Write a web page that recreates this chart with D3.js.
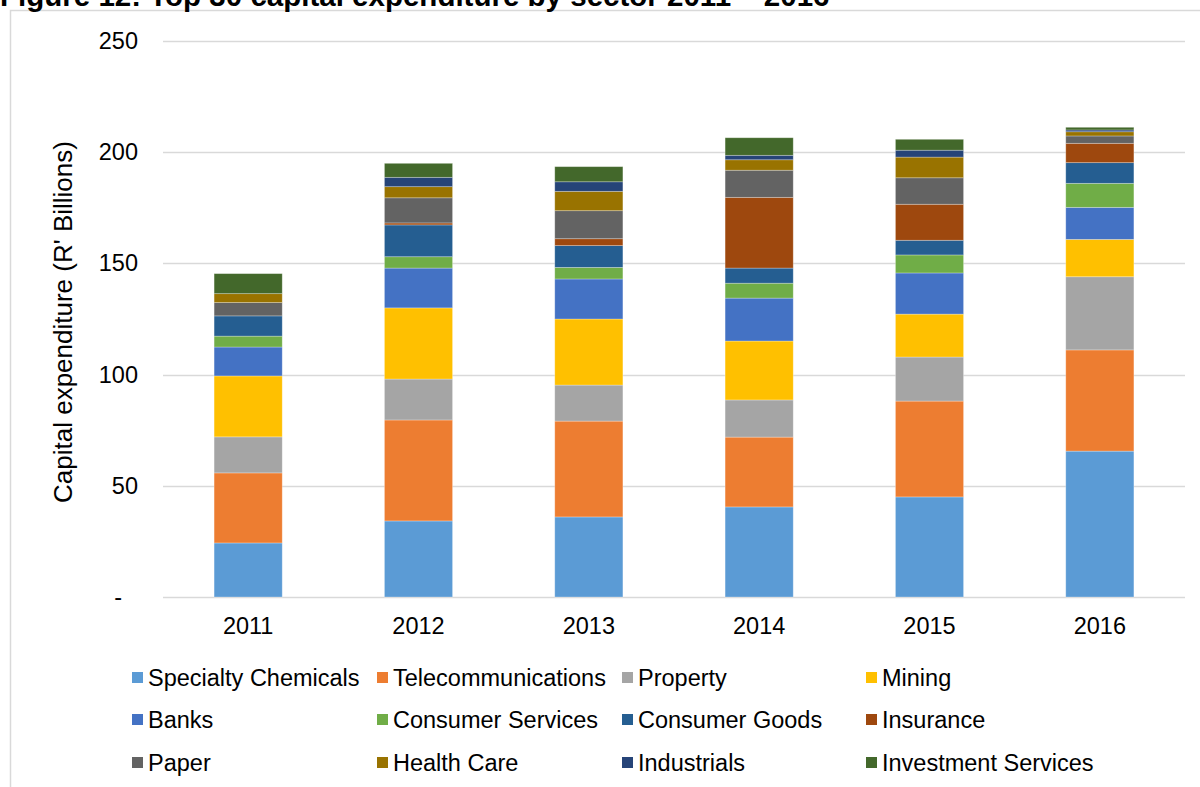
<!DOCTYPE html>
<html>
<head>
<meta charset="utf-8">
<script src="https://cdn.jsdelivr.net/npm/d3@7"></script>
<style>
  body { margin: 0; background: #fff; }
  text { font-family: "Liberation Sans", Arial, sans-serif; }
</style>
</head>
<body>
<div id="myChart"></div>
<script>
// years on the x axis
var years = ["2011", "2012", "2013", "2014", "2015", "2016"];

// sectors, bottom of stack first
var sectors = ["Specialty Chemicals", "Telecommunications", "Property", "Mining",
    "Banks", "Consumer Services", "Consumer Goods", "Insurance",
    "Paper", "Health Care", "Industrials", "Investment Services"];

// R' billions per year (2011..2016)
var specialtyChemicals = [24.3, 34.2, 36.0, 40.5, 45.0, 65.6];
var telecommunications = [31.5, 45.4, 43.1, 31.4, 43.1, 45.5];
var property           = [16.2, 18.4, 16.2, 16.7, 19.8, 32.9];
var mining             = [27.4, 32.0, 29.7, 26.5, 19.3, 16.8];
var banks              = [13.0, 17.9, 18.0, 19.3, 18.5, 14.4];
var consumerServices   = [4.9, 5.1, 5.2, 6.7, 8.1, 10.8];
var consumerGoods      = [9.1, 14.3, 9.8, 6.8, 6.6, 9.3];
var insurance          = [0.0, 0.9, 3.1, 31.8, 16.2, 8.7];
var paper              = [6.0, 11.3, 12.6, 12.2, 11.9, 3.3];
var healthCare         = [4.0, 5.0, 8.7, 4.7, 9.3, 1.9];
var industrials        = [0.0, 4.2, 4.3, 2.0, 3.1, 0.8];
var investmentServices = [9.0, 6.3, 6.8, 7.9, 4.9, 1.2];

var yTicks = [0, 50, 100, 150, 200, 250];

var colors = ["#5B9BD5", "#ED7D31", "#A5A5A5", "#FFC000", "#4472C4", "#70AD47",
    "#255E91", "#9E480E", "#636363", "#997300", "#264478", "#43682B"];

var seriesValues = [specialtyChemicals, telecommunications, property, mining, banks,
    consumerServices, consumerGoods, insurance, paper, healthCare, industrials, investmentServices];

// rows for d3.stack
var rows = years.map(function(y, i) {
    var r = { year: y };
    sectors.forEach(function(s, j) { r[s] = seriesValues[j][i]; });
    return r;
});

var width = 1200, height = 787;
var svg = d3.select("#myChart")
    .append("svg")
    .attr("width", width).attr("height", height);

// outer frame
svg.append("rect")
    .attr("x", 10.5).attr("y", 10.5)
    .attr("width", 1300).attr("height", 900)
    .attr("fill", "none")
    .attr("stroke", "#d9d9d9")
    .attr("stroke-width", 1.5);

// title (partly cut off at the top, like the source)
var title = svg.append("text")
    .attr("x", 0).attr("y", 6)
    .attr("font-weight", "bold")
    .attr("font-size", 24)
    .attr("fill", "#000")
    .text("Figure 12: Top 30 capital expenditure by sector 2011 \u2013 2016");
var tw = title.node().getComputedTextLength();
title.attr("font-size", 24 * 830 / tw);

var x = d3.scaleBand()
    .domain(years)
    .range([163, 1185])
    .paddingInner(0.6)
    .paddingOuter(0.3);

var y = d3.scaleLinear()
    .domain([0, 250])
    .range([597, 41]);

// gridlines
svg.append("g")
    .selectAll("line")
    .data(yTicks)
    .enter().append("line")
    .attr("x1", 163).attr("x2", 1185)
    .attr("y1", function(d) { return Math.round(y(d)) + 0.5; })
    .attr("y2", function(d) { return Math.round(y(d)) + 0.5; })
    .attr("stroke", "#d9d9d9")
    .attr("stroke-width", 1.3);

// y axis labels
var yAxis = svg.append("g")
    .attr("transform", "translate(138,0)")
    .call(d3.axisLeft(y).tickValues(yTicks).tickSize(0).tickPadding(0)
        .tickFormat(function(d) { return d === 0 ? "-" : d; }));
yAxis.select(".domain").remove();
yAxis.selectAll("text")
    .attr("font-size", 23.5)
    .attr("font-family", "Liberation Sans, Arial, sans-serif")
    .attr("fill", "#000");
yAxis.selectAll(".tick").filter(function(d) { return d === 0; })
    .select("text").attr("dx", -16);

// stacked bars
var stack = d3.stack().keys(sectors);
var layers = stack(rows);

svg.append("g")
    .selectAll("g")
    .data(layers)
    .enter().append("g")
    .attr("fill", function(d, i) { return colors[i]; })
    .selectAll("rect")
    .data(function(d) { return d; })
    .enter().append("rect")
    .attr("x", function(d) { return x(d.data.year); })
    .attr("width", x.bandwidth())
    .attr("y", function(d) { return y(d[1]); })
    .attr("height", function(d) { return y(d[0]) - y(d[1]); })
    .attr("stroke", "rgba(255,255,255,0.35)")
    .attr("stroke-width", 0.8);

// x axis labels
var xAxis = svg.append("g")
    .attr("transform", "translate(0,597)")
    .call(d3.axisBottom(x).tickSize(0).tickPadding(20));
xAxis.select(".domain").remove();
xAxis.selectAll("text")
    .attr("font-size", 23.5)
    .attr("font-family", "Liberation Sans, Arial, sans-serif")
    .attr("fill", "#000");

// y axis title
svg.append("text")
    .attr("transform", "translate(72,322) rotate(-90)")
    .attr("text-anchor", "middle")
    .attr("font-size", 26)
    .attr("fill", "#000")
    .text("Capital expenditure (R' Billions)");

// legend, 4 columns x 3 rows
var legendX = [132, 377, 622, 866];
var legendY = [678, 720, 763];
var legend = svg.append("g")
    .selectAll("g")
    .data(sectors)
    .enter().append("g")
    .attr("transform", function(d, i) {
        return "translate(" + legendX[i % 4] + "," + legendY[Math.floor(i / 4)] + ")";
    });
legend.append("rect")
    .attr("x", 0).attr("y", -6)
    .attr("width", 11).attr("height", 11)
    .attr("fill", function(d, i) { return colors[i]; });
legend.append("text")
    .attr("x", 16).attr("y", 0)
    .attr("dy", "0.35em")
    .attr("font-size", 23.5)
    .attr("fill", "#000")
    .text(function(d) { return d; });
</script>
</body>
</html>
